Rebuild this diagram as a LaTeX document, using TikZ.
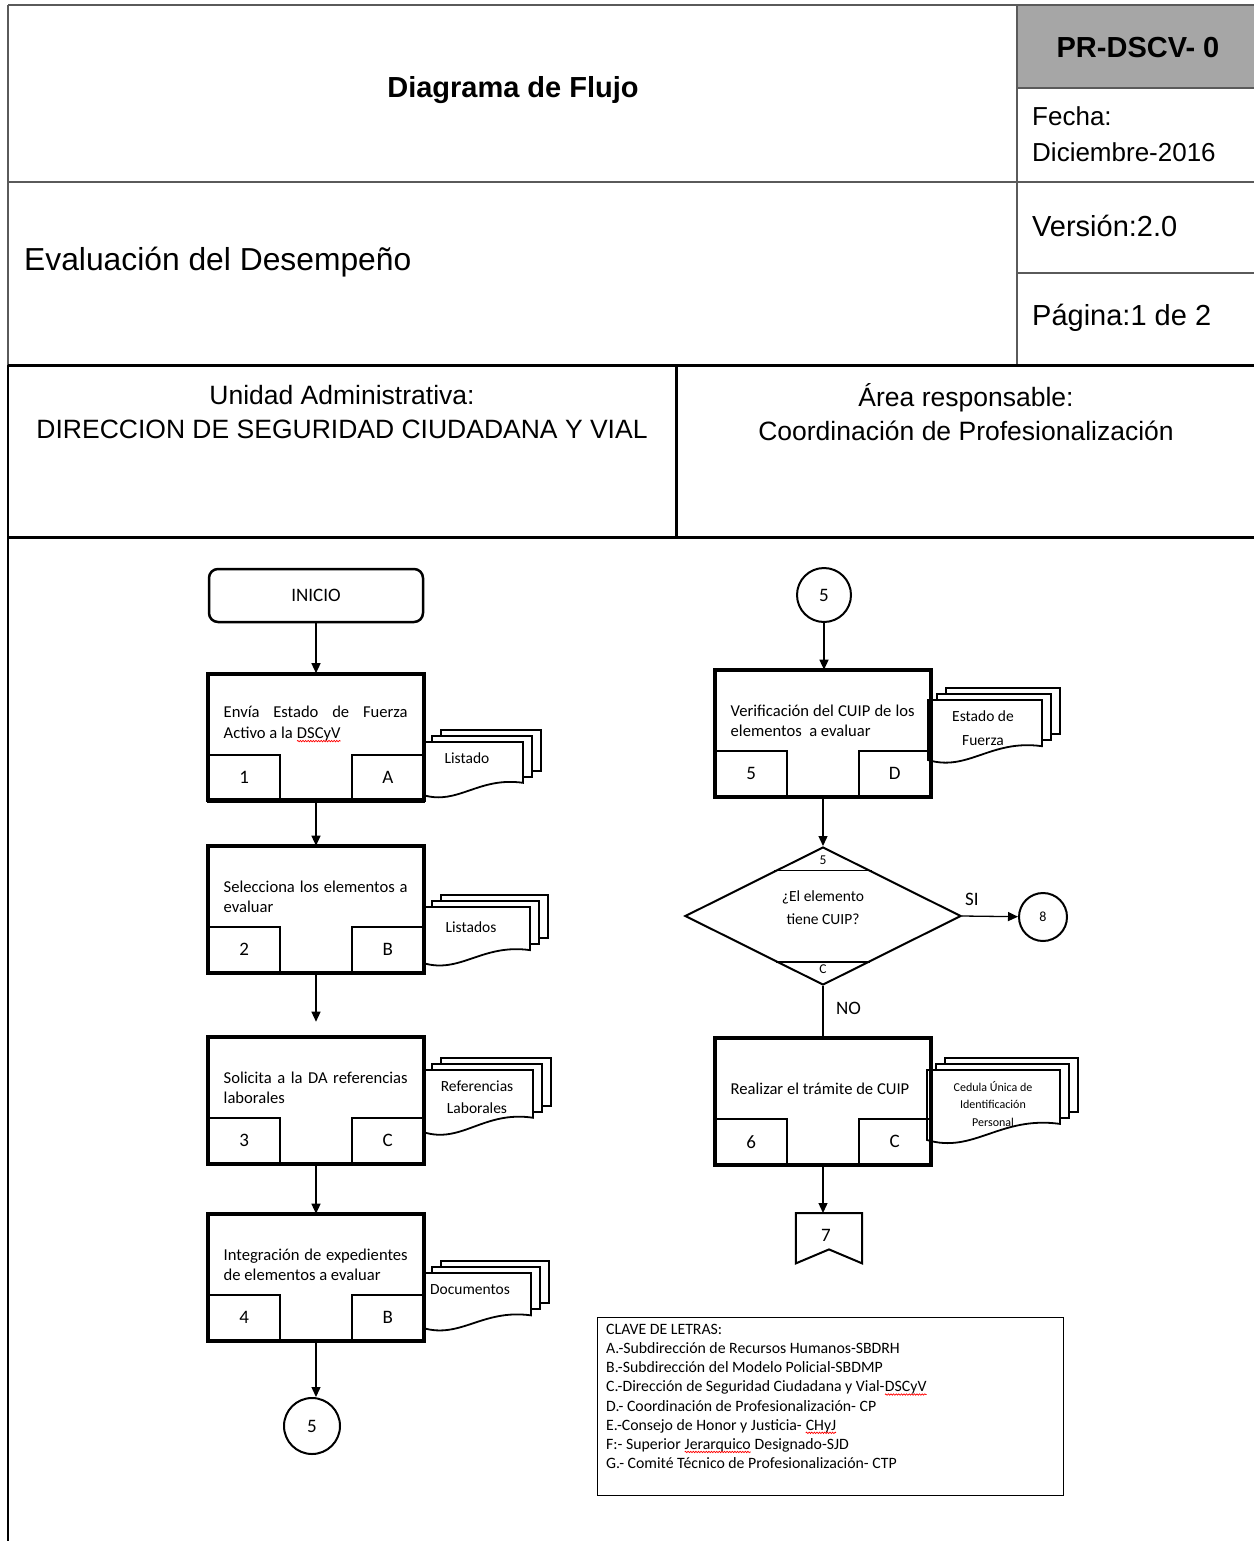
\documentclass[tikz,border=0pt]{standalone}
\usepackage{fontspec}
\setmainfont{Liberation Sans}
\newfontfamily\calf{Carlito}
\usetikzlibrary{arrows.meta,shapes.geometric,calc,decorations.pathmorphing}
\definecolor{hdrgray}{RGB}{166,166,166}
\definecolor{hline}{RGB}{90,90,90}
\newcommand\sqg[1]{\tikz[baseline=(sw.base)]{\node[inner sep=0pt,outer sep=0pt,text width={},anchor=base,draw=none] (sw) {#1};
  \draw[red,line width=0.7pt,decorate,decoration={snake,amplitude=0.7pt,segment length=2.6pt}] ([yshift=-2.6pt]sw.base west) -- ([yshift=-2.6pt]sw.base east);}}
\newcommand\docstk[4]{%
  \foreach \dx/\dy in {18/12,9/6}{%
    \draw[docline] (#1+\dx,#2-\dy) rectangle (#1+#3+\dx,#2+0.77*#4-\dy);
  }
  \draw[docline] (#1,#2) -- (#1+#3,#2) -- (#1+#3,#2+0.77*#4)
    .. controls (#1+0.55*#3,#2+0.65*#4) and (#1+0.35*#3,#2+1.2*#4) .. (#1,#2+#4) -- cycle;
}
\begin{document}
\begin{tikzpicture}[x=1pt,y=-1pt,
  hl/.style={draw=hline,line width=2pt},
  tl/.style={draw=black,line width=3pt},
  hdr/.style={inner sep=0pt,font=\fontsize{26}{30}\selectfont},
  proc/.style={draw,line width=2.6pt,minimum width=214pt,minimum height=125pt,inner sep=0pt},
  subb/.style={draw,line width=2pt,minimum width=71pt,minimum height=45pt,inner sep=0pt,font=\calf\fontsize{19}{20}\selectfont},
  ptext/.style={text width=184pt,align=justify,inner sep=0pt,font=\calf\fontsize{16.6}{20.5}\selectfont},
  dtext/.style={align=center,inner sep=0pt,font=\calf\fontsize{15.5}{22}\selectfont},
  docline/.style={line width=1.8pt,fill=white,line join=miter},
  conn/.style={circle,draw,line width=2pt,inner sep=0pt,font=\calf\fontsize{19}{20}\selectfont},
  arr/.style={-{Triangle[length=10pt,width=9pt]},line width=1.3pt},
  lbl/.style={inner sep=0pt,font=\calf\fontsize{19}{20}\selectfont}
]
\useasboundingbox (0,0) rectangle (1254,1541);
\fill[white] (0,0) rectangle (1254,1541);

% ---------------- header ----------------
\fill[hdrgray] (1017,5) rectangle (1254,88);
\draw[hl] (8,5) -- (1254,5);
\draw[hl] (8,5) -- (8,365);
\draw[hl] (1017,5) -- (1017,365);
\draw[hl] (1017,88) -- (1254,88);
\draw[hl] (8,182) -- (1254,182);
\draw[hl] (1017,273) -- (1254,273);
\draw[tl] (8,365) -- (1254,365);
\draw[tl] (676,365) -- (676,537);
\draw[tl] (8,537) -- (1254,537);
\draw[line width=2pt] (8,365) -- (8,1541);

\node[hdr,font=\bfseries\fontsize{29}{30}\selectfont] (title) at (513,90) {Diagrama de Flujo};
\node[hdr,font=\bfseries\fontsize{29}{30}\selectfont] (code) at (1138,48) {PR-DSCV- 0};
\node[hdr,anchor=west,font=\fontsize{26}{30}\selectfont] (fecha) at (1032,116) {Fecha:};
\node[hdr,anchor=west,font=\fontsize{26}{30}\selectfont] (fechav) at (1032,152) {Diciembre-2016};
\node[hdr,anchor=west,font=\fontsize{29}{30}\selectfont] (ver) at (1032,226) {Versión:2.0};
\node[hdr,anchor=west,font=\fontsize{29}{30}\selectfont] (pag) at (1032,318) {Página:1 de 2};
\node[hdr,anchor=west,font=\fontsize{31.8}{34}\selectfont] (proc) at (24,262) {Evaluación del Desempeño};
\node[hdr,align=center,font=\fontsize{26.5}{34}\selectfont] (unidad) at (342,412) {Unidad Administrativa:\\DIRECCION DE SEGURIDAD CIUDADANA Y VIAL};
\node[hdr,align=center,font=\fontsize{26.5}{34}\selectfont] (area) at (966,412) {Área responsable:\\Coordinación de Profesionalización};

% ---------------- documents (behind boxes) ----------------
\docstk{423}{742}{100}{53}
\docstk{423}{907}{107}{56}
\docstk{423}{1070}{110}{62}
\docstk{423}{1273}{108}{55}
\docstk{928}{700}{114}{60}
\docstk{927}{1070}{133}{70}
\node[dtext] (d1) at (467,758) {Listado};
\node[dtext] (d2) at (471,927) {Listados};
\node[dtext] (d3) at (477,1097) {Referencias\\Laborales};
\node[dtext] (d4) at (470,1290) {Documentos};
\node[dtext,font=\calf\fontsize{15.5}{24}\selectfont] (d5) at (983,728) {Estado de\\Fuerza};
\node[dtext,font=\calf\fontsize{12}{17.5}\selectfont] (d6) at (993,1104) {Cedula Única de\\Identificación\\Personal};

% ---------------- left column ----------------
\node[draw,line width=2.5pt,rounded corners=9pt,minimum width=214pt,minimum height=53pt,inner sep=0pt,
      font=\calf\fontsize{19}{20}\selectfont] (inicio) at (316,595.5) {INICIO};

\newcommand\procbox[6]{%
  \node[proc] (#1) at (#2,#3) {};
  \node[subb,anchor=south west] (#1n) at (#1.south west) {#4};
  \node[subb,anchor=south east] (#1l) at (#1.south east) {#5};
  \node[ptext] (#1t) at ($(#1n.north west)+(108,-29.5)$) {#6};
  \draw[line width=2.6pt] (#1.south west) rectangle (#1.north east);
  \draw[line width=4pt] ($(#1.south west)+(-1,0)$) -- ($(#1.south east)+(1,0)$);
}
\procbox{p1}{316}{737}{1}{A}{Envía Estado de Fuerza\linebreak Activo a la \sqg{DSCyV}}
\procbox{p2}{316}{909.5}{2}{B}{Selecciona los elementos a\linebreak evaluar}
\procbox{p3}{316}{1100.5}{3}{C}{Solicita a la DA referencias\linebreak laborales}
\procbox{p4}{316}{1277.5}{4}{B}{Integración de expedientes\linebreak de elementos a evaluar}

\node[conn,minimum size=56pt] (c5a) at (312,1426) {5};

\draw[arr] (inicio) -- (p1);
\draw[arr] (p1) -- (p2);
\draw[arr,shorten >=15pt] (p2) -- (p3);
\draw[arr] (p3) -- (p4);
\draw[arr] (p4.south) -- (p4.south |- c5a.north);

% ---------------- right column ----------------
\node[conn,minimum size=54pt] (c5b) at (824,595) {5};
\procbox{p5}{823}{733.5}{5}{D}{Verificación del CUIP de los\linebreak elementos\ \ a evaluar}
\node[draw,diamond,line width=2pt,minimum width=276pt,minimum height=138pt,inner sep=0pt,aspect=2] (dec) at (823,916) {};
\node[inner sep=0pt,align=center,font=\calf\fontsize{15.5}{23}\selectfont] (dect) at (823,908) {¿El elemento\\tiene CUIP?};
\draw[line width=1.6pt] ($(dec.north)!0.35!(dec.west)$) -- ($(dec.north)!0.35!(dec.east)$);
\draw[line width=1.6pt] ($(dec.south)!0.34!(dec.west)$) -- ($(dec.south)!0.34!(dec.east)$);
\node[inner sep=0pt,font=\calf\fontsize{13.5}{14}\selectfont] (dec5) at (823,860) {5};
\node[inner sep=0pt,font=\calf\fontsize{13.5}{14}\selectfont] (decC) at (823,969) {C};
\node[conn,minimum size=48pt,font=\calf\fontsize{14}{14}\selectfont] (c8) at (1043,917) {8};
\procbox{p6}{823}{1101.5}{6}{C}{Realizar el trámite de CUIP}
\node[inner sep=0pt,minimum width=66pt,minimum height=50pt,anchor=north] (off7) at (829,1213) {};
\draw[line width=2pt,line join=miter] (off7.north west) -- (off7.north east) -- (off7.south east)
   -- ($(off7.south)+(0,-14)$) -- (off7.south west) -- cycle;
\node[lbl] (off7t) at (826,1235) {7};

\draw[arr] (c5b) -- (c5b |- p5.north);
\draw[arr] (p5) -- (dec);
\draw[arr] (dec.east) -- (c8);
\node[lbl,anchor=south west] (si) at (965,906) {SI};
\draw[line width=1.3pt] (dec.south) -- (p6.north);
\node[lbl,anchor=west] (no) at (836,1008) {NO};
\draw[arr] (p6) -- (p6.south |- off7.north);

% ---------------- legend ----------------
\node[draw,line width=1.3pt,anchor=north west,minimum width=466pt,minimum height=178pt,inner sep=0pt] (leg) at (597,1317) {};
\node[anchor=north west,inner sep=0pt,align=left,font=\calf\fontsize{15.8}{19.15}\selectfont] (legt) at (606,1324)
{CLAVE DE LETRAS:\\
A.-Subdirección de Recursos Humanos-SBDRH\\
B.-Subdirección del Modelo Policial-SBDMP\\
C.-Dirección de Seguridad Ciudadana y Vial-\sqg{DSCyV}\\
D.- Coordinación de Profesionalización- CP\\
E.-Consejo de Honor y Justicia- \sqg{CHyJ}\\
F:- Superior \sqg{Jerarquico} Designado-SJD\\
G.- Comité Técnico de Profesionalización- CTP};
\end{tikzpicture}
\end{document}
